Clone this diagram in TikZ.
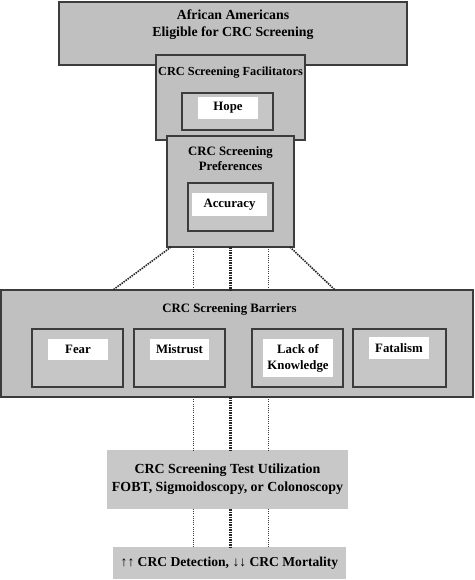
\documentclass[tikz,border=0pt]{standalone}
\usepackage{fontspec}
\setmainfont{Liberation Serif}
\definecolor{boxgray}{HTML}{C0C0C0}
\definecolor{innergray}{HTML}{C6C6C6}
\definecolor{lightgray2}{HTML}{C8C8C8}
\definecolor{edgegray}{HTML}{3C3C3C}
\begin{document}
\begin{tikzpicture}[x=1pt,y=-1pt,
  box/.style={draw=edgegray, line width=1.6pt, fill=boxgray, inner sep=0pt, outer sep=0pt, rectangle},
  ibox/.style={box, fill=innergray},
  plain/.style={fill=lightgray2, inner sep=0pt, outer sep=0pt, rectangle},
  lab/.style={fill=white, inner sep=0pt, align=center, font=\bfseries\fontsize{12.8}{15}\selectfont},
  ttl/.style={inner sep=0pt, align=center, font=\bfseries\fontsize{12.8}{15}\selectfont},
  big/.style={inner sep=0pt, align=center, font=\bfseries\fontsize{13.8}{17.5}\selectfont},
  thindot/.style={line width=0.8pt, dash pattern=on 1pt off 1.2pt, edgegray},
  thickdot/.style={line width=2.2pt, dash pattern=on 1.5pt off 1pt, black!85},
  diagdot/.style={line width=1.6pt, dash pattern=on 1.5pt off 1pt, black!85}]
\useasboundingbox (0,0) rectangle (474,580);
\fill[white] (0,0) rectangle (474,580);
% top
\node[box, minimum width=348pt, minimum height=63pt] (top) at (233,33.5) {};
\node[big] (toptxt) at (233,24.5) {African Americans\\Eligible for CRC Screening};
% facilitators
\node[box, minimum width=149pt, minimum height=85pt] (fac) at (230.5,97.5) {};
\node[ttl, font=\bfseries\fontsize{12.3}{15}\selectfont] (factxt) at (230.5,73) {CRC Screening Facilitators};
\node[ibox, minimum width=91pt, minimum height=37pt] (hopebox) at (227.5,111.5) {};
\node[lab, minimum width=60pt, minimum height=22pt] (hope) at (228,108) {Hope};
% preferences
\node[box, minimum width=127pt, minimum height=111pt] (pref) at (230.5,191.5) {};
\node[ttl, font=\bfseries\fontsize{12.8}{15.5}\selectfont] (preftxt) at (230.5,158.5) {CRC Screening\\Preferences};
\node[ibox, minimum width=85pt, minimum height=48pt] (accbox) at (230.5,207) {};
\node[lab, minimum width=75pt, minimum height=23pt] (acc) at (229.5,204.5) {Accuracy};
% barriers
\node[box, minimum width=472pt, minimum height=107pt] (barr) at (237,343.5) {};
\node[ttl] (barrtxt) at (229.5,309) {CRC Screening Barriers};
\node[ibox, minimum width=91pt, minimum height=58pt] (fearbox) at (77.5,358) {};
\node[lab, minimum width=60pt, minimum height=21pt] (fear) at (78,349.5) {Fear};
\node[ibox, minimum width=91pt, minimum height=58pt] (mistbox) at (179.5,358) {};
\node[lab, minimum width=59pt, minimum height=21pt] (mist) at (179.5,349.5) {Mistrust};
\node[ibox, minimum width=91pt, minimum height=58pt] (lokbox) at (297.5,358) {};
\node[lab, minimum width=70pt, minimum height=38pt, font=\bfseries\fontsize{12.8}{16}\selectfont] (lok) at (298,358) {Lack of\\Knowledge};
\node[ibox, minimum width=93pt, minimum height=58pt] (fatbox) at (399.5,358) {};
\node[lab, minimum width=60pt, minimum height=22pt] (fat) at (399,348) {Fatalism};
% utilization
\node[plain, minimum width=241pt, minimum height=59pt] (util) at (227.5,479.5) {};
\node[big, font=\bfseries\fontsize{13.9}{18}\selectfont] (utiltxt) at (227.5,479) {CRC Screening Test Utilization\\FOBT, Sigmoidoscopy, or Colonoscopy};
% outcome
\node[plain, minimum width=233pt, minimum height=32pt] (out) at (229.5,563) {};
\node[big, font=\bfseries\fontsize{13.6}{16}\selectfont] (outtxt) at (229.5,563) {↑↑ CRC Detection, ↓↓ CRC Mortality};
% connectors pref -> barr
\draw[diagdot] ([xshift=4pt]pref.south west) -- ([xshift=-124pt]barr.north);
\draw[diagdot] ([xshift=-4pt]pref.south east) -- ([xshift=98pt]barr.north);
\draw[thindot] ([xshift=-37.5pt]pref.south) -- ([xshift=-37.5pt]pref.south |- barr.north);
\draw[thickdot] (pref.south) -- (pref.south |- barr.north);
\draw[thindot] ([xshift=37.5pt]pref.south) -- ([xshift=37.5pt]pref.south |- barr.north);
% barr -> util
\draw[thindot] ([xshift=-37.5pt]pref.south |- barr.south) -- ([xshift=-37.5pt]pref.south |- util.north);
\draw[thickdot] (pref.south |- barr.south) -- (pref.south |- util.north);
\draw[thindot] ([xshift=37.5pt]pref.south |- barr.south) -- ([xshift=37.5pt]pref.south |- util.north);
% util -> out
\draw[thindot] ([xshift=-37.5pt]pref.south |- util.south) -- ([xshift=-37.5pt]pref.south |- out.north);
\draw[thickdot] (pref.south |- util.south) -- (pref.south |- out.north);
\draw[thindot] ([xshift=37.5pt]pref.south |- util.south) -- ([xshift=37.5pt]pref.south |- out.north);
\end{tikzpicture}
\end{document}
